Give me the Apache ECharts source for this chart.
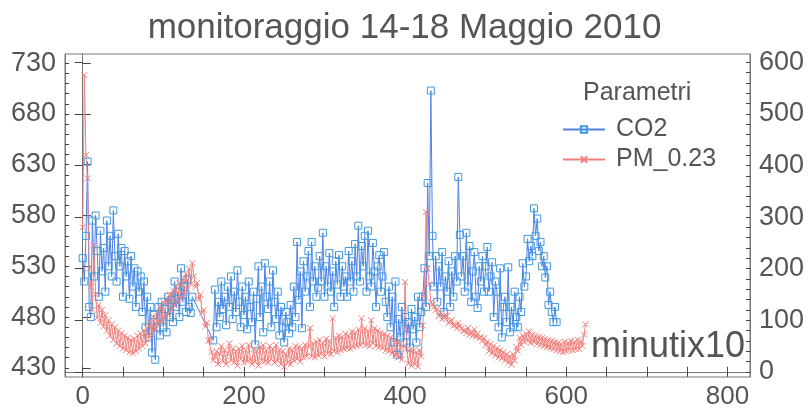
<!DOCTYPE html>
<html>
<head>
<meta charset="utf-8">
<script src="https://cdn.jsdelivr.net/npm/echarts@6/dist/echarts.min.js"></script>
<style>
html,body{margin:0;padding:0;background:#fff;}
#c{width:809px;height:410px;}
</style>
</head>
<body>
<div id="c"></div>
<script>
// sample spacing (x units) of both series
const sampleStep = 2;
// CO2 (left axis), one value every 2 x-units starting at 0; null = missing sample
const co2 = [
538,515,560,633,490,480,575,520,580,545,500,565,525,548,505,575,530,560,520,
585,540,515,562,530,548,500,545,520,535,498,540,510,528,490,525,505,520,485,515,
470,500,460,490,445,482,438,470,490,462,495,470,488,465,500,480,497,475,515,490,505,480,528,495,510,485,517,490,484,500,
null,null,null,null,null,null,null,null,null,null,null,null,
457,507,470,495,480,515,488,500,472,510,490,520,478,505,485,526,495,470,510,482,
500,468,515,490,475,505,453,498,530,480,510,465,533,500,488,515,470,526,495,478,
505,462,490,470,455,485,475,464,492,470,
510,480,554,497,525,469,535,505,520,545,490,554,515,530,500,509,540,515,563,500,
530,510,543,505,525,490,535,512,541,500,530,510,520,500,545,515,535,505,552,520,
570,515,550,530,560,505,565,520,510,553,525,490,530,541,505,520,544,495,480,510,
470,500,455,515,443,478,460,490,455,480,462,475,450,488,468,480,455,500,470,485,
500,528,490,612,540,703,560,510,540,495,530,510,544,485,520,505,535,490,525,500,
540,515,618,561,520,540,505,563,510,550,495,525,544,500,489,530,515,540,505,530,
549,505,520,534,480,515,505,470,528,460,490,500,475,529,465,490,470,505,480,470,
500,485,533,510,520,557,535,550,540,587,560,577,545,554,530,540,519,530,492,505,
485,475,490,475
];
// PM_0.23 (right axis), one value every 2 x-units starting at 0
const pm = [
280,575,420,375,200,165,120,245,150,105,130,95,120,88,110,80,
100,70,92,62,86,55,80,50,75,45,70,42,66,38,62,36,64,40,70,45,74,50,80,55,85,
65,95,72,105,82,115,90,125,98,135,105,142,112,150,120,158,128,165,135,172,142,180,150,190,160,200,170,211,
185,165,172,140,150,115,120,88,95,60,62,38,22,30,40,15,35,
50,20,42,15,35,55,22,45,18,40,12,45,25,50,18,42,20,52,25,15,
44,20,40,12,48,22,52,20,42,18,50,25,44,18,52,22,42,15,40,10,
35,18,45,15,42,22,50,25,48,20,45,28,52,30,50,
85,30,55,28,58,32,62,35,56,30,64,36,60,34,104,40,66,38,70,42,
68,44,74,46,70,45,78,48,76,50,
82,52,104,55,84,52,80,50,100,56,84,50,80,48,76,46,74,42,70,40,
66,36,62,32,58,28,54,24,50,174,45,16,42,12,40,15,38,10,42,30,
90,150,310,200,170,135,130,125,120,122,108,115,102,105,110,108,95,98,100,90,
90,85,95,88,84,80,80,75,85,72,78,70,82,68,74,65,68,60,65,52,
58,40,54,36,50,32,46,28,42,26,38,22,34,18,30,14,34,22,48,40,
66,52,70,58,74,60,78,56,72,58,70,54,68,52,66,50,64,48,62,46,
60,44,58,42,56,40,54,38,58,40,56,42,60,42,58,44,62,44,60,50,
72,92
];
const xLabels = [0, 200, 400, 600, 800];
const xTicks = [0,50,100,150,200,250,300,350,400,450,500,550,600,650,700,750,800];
const leftLabels = [430, 480, 530, 580, 630, 680, 730];
const leftMinor = [430,440,450,460,470,480,490,500,510,520,530,540,550,560,570,580,590,600,610,620,630,640,650,660,670,680,690,700,710,720,730];
const rightLabels = [0, 100, 200, 300, 400, 500, 600];
const rightMinor = [0,20,40,60,80,100,120,140,160,180,200,220,240,260,280,300,320,340,360,380,400,420,440,460,480,500,520,540,560,580,600];

const co2Data = co2.map((v, i) => [i * sampleStep, v]);
const pmData = pm.map((v, i) => [i * sampleStep, v]);

const txt = '#555';
const fontFam = 'Liberation Sans, Arial, sans-serif';
const axisLine = {show: true, lineStyle: {color: '#777', width: 1}};

function yAx(min, max, pos, labels, ticks, len, showLabel) {
  return {
    type: 'value', position: pos, min: min, max: max,
    axisLine: axisLine,
    splitLine: {show: false},
    axisTick: {show: true, inside: true, length: len, customValues: ticks, lineStyle: {color: '#444'}},
    axisLabel: {show: showLabel, customValues: labels, color: txt, fontSize: 27, fontFamily: fontFam, margin: 9}
  };
}

const chart = echarts.init(document.getElementById('c'), null, {renderer: 'canvas'});
chart.setOption({
  animation: false,
  backgroundColor: '#fff',
  title: {
    text: 'monitoraggio 14-18 Maggio 2010',
    left: 'center', top: 6,
    textStyle: {color: txt, fontSize: 35, fontWeight: 'normal', fontFamily: fontFam}
  },
  grid: {left: 65, right: 59, top: 54, bottom: 33, show: true, borderColor: '#777', borderWidth: 1},
  legend: {
    orient: 'vertical', left: 557, top: 112,
    itemWidth: 42, itemHeight: 8, itemGap: 5,
    textStyle: {color: txt, fontSize: 25, fontFamily: fontFam, padding: [0, 0, 0, 6]},
    data: ['CO2', 'PM_0.23']
  },
  graphic: [
    {type: 'text', left: 583, top: 81, style: {text: 'Parametri', fill: txt, fontSize: 25, fontFamily: fontFam}},
    {type: 'text', right: 64, top: 329, style: {text: 'minutix10', fill: txt, fontSize: 36, fontFamily: fontFam}}
  ],
  xAxis: [
    {
      type: 'value', position: 'bottom', min: -22, max: 828,
      axisLine: axisLine, splitLine: {show: false},
      axisTick: {show: true, inside: true, length: 5, customValues: xTicks, lineStyle: {color: '#444'}},
      axisLabel: {customValues: xLabels, color: txt, fontSize: 26, fontFamily: fontFam, margin: 7}
    },
    {
      type: 'value', position: 'top', min: -22, max: 828,
      axisLine: axisLine, splitLine: {show: false},
      axisTick: {show: true, inside: true, length: 5, customValues: xTicks, lineStyle: {color: '#444'}},
      axisLabel: {show: false}
    }
  ],
  yAxis: [
    yAx(421, 739, 'left', leftLabels, leftLabels, 8, true),
    yAx(-10, 616, 'right', rightLabels, rightLabels, 8, true),
    yAx(421, 739, 'left', [], leftMinor, 4, false),
    yAx(-10, 616, 'right', [], rightMinor, 4, false)
  ],
  series: [
    {
      name: 'CO2', type: 'line', xAxisIndex: 0, yAxisIndex: 0,
      data: co2Data, connectNulls: true,
      symbol: 'rect', symbolSize: 7, showAllSymbol: true,
      lineStyle: {color: '#4f82e6', width: 1},
      itemStyle: {color: 'rgba(255,255,255,0)', borderColor: '#3f9ade', borderWidth: 1}
    },
    {
      name: 'PM_0.23', type: 'line', xAxisIndex: 0, yAxisIndex: 1,
      data: pmData,
      symbol: 'path://M0,0L10,10M10,0L0,10', symbolSize: 6, showAllSymbol: true,
      lineStyle: {color: '#f0807c', width: 1},
      itemStyle: {color: 'rgba(255,255,255,0)', borderColor: '#f47e7b', borderWidth: 1}
    }
  ]
});
</script>
</body>
</html>
